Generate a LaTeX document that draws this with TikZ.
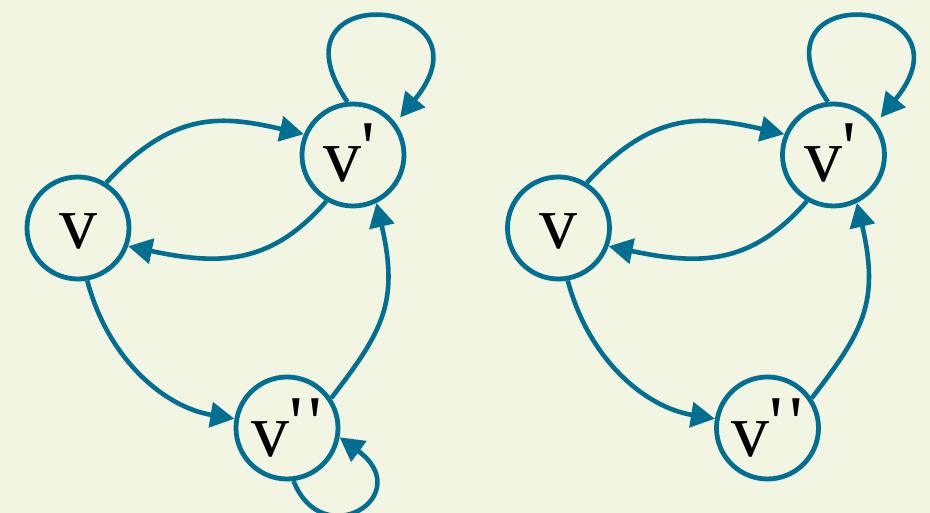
\documentclass[tikz,border=0pt]{standalone}
\usepackage{fontspec}
\newfontfamily\vfont{Liberation Serif}[Ligatures=TeXOff]
\usetikzlibrary{arrows.meta}
\definecolor{paper}{RGB}{241,245,225}
\definecolor{ink}{RGB}{0,111,145}
\tikzset{
  vert/.style={circle, draw=ink, line width=4.8pt, minimum size=102pt, inner sep=0pt},
  vlabel/.style={anchor=base west, inner sep=0pt, font=\vfont\fontsize{76}{76}\selectfont},
  edge/.style={draw=ink, line width=4.6pt, -{Triangle[length=24pt,width=25pt]}},
}
\newcommand{\pr}{\raisebox{8pt}{'}}
\newcommand{\prr}{\raisebox{8pt}{'\kern6pt'}}
\begin{document}
\begin{tikzpicture}[x=1pt,y=-1pt]
  \useasboundingbox (0,0) rectangle (930,513);
  \fill[paper] (0,0) rectangle (930,513);

  % graph with loops on v' and v''
  \node[vert] (v)   at (78,228)  {};
  \node[vert] (vp)  at (353,155) {};
  \node[vert] (vpp) at (287,428) {};
  \node[vlabel] (tv)   at (59,249)     {v};
  \node[vlabel] (tvp)  at (323.5,181.5) {v\pr};
  \node[vlabel] (tvpp) at (251,456)    {v\prr};

  \draw[edge] (v.58)   .. controls (174,109) and (224,116) .. (vp.157);
  \draw[edge] (vp.240) .. controls (270,266) and (218,265) .. (v.340);
  \draw[edge] (v.280)  .. controls (108,359) and (164,407) .. (vpp.170);
  \draw[edge] (vpp.34) .. controls (381,333) and (400,304) .. (vp.296);
  \draw[edge, shorten >=7pt] (vp.96) .. controls (262,-24) and (500,-4) .. (vp.37);
  \draw[edge] (vpp.277) .. controls (323,555) and (418,495) .. (vpp.350);

  % graph with a loop on v' only
  \begin{scope}[xshift=480.5pt]
    \node[vert] (w)   at (78,228)  {};
    \node[vert] (wp)  at (353,155) {};
    \node[vert] (wpp) at (287,428) {};
    \node[vlabel] (tw)   at (59,249)     {v};
    \node[vlabel] (twp)  at (323.5,181.5) {v\pr};
    \node[vlabel] (twpp) at (251,456)    {v\prr};

    \draw[edge] (w.58)   .. controls (174,109) and (224,116) .. (wp.157);
    \draw[edge] (wp.240) .. controls (270,266) and (218,265) .. (w.340);
    \draw[edge] (w.280)  .. controls (108,359) and (164,407) .. (wpp.170);
    \draw[edge] (wpp.34) .. controls (381,333) and (400,304) .. (wp.296);
    \draw[edge, shorten >=7pt] (wp.96) .. controls (262,-24) and (500,-4) .. (wp.37);
  \end{scope}
\end{tikzpicture}
\end{document}
